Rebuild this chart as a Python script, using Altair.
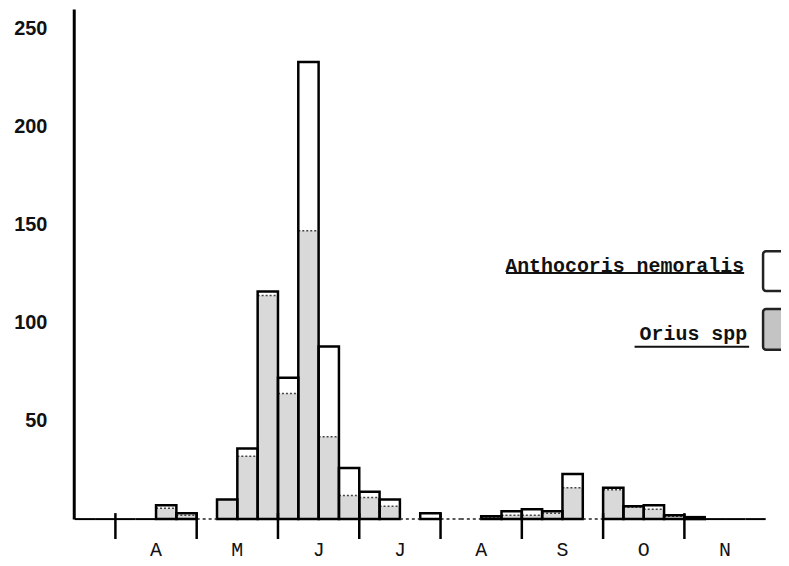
import altair as alt
import pandas as pd

# weekly bins (index 0 starts at the y axis)
bins = list(range(34))
total = [0, 0, 0, 0, 7, 3, 0, 10, 36, 116, 72, 233, 88, 26, 14, 10, 0, 3, 0, 0,
         1.5, 4, 5, 4, 23, 0, 16, 6.5, 7, 2, 1, 0, 0, 0]
orius = [0, 0, 0, 0, 5.5, 2, 0, 10, 32, 114, 64, 147, 42, 12, 11, 6.5, 0, 0, 0, 0,
         0.5, 2, 2, 3, 16, 0, 15, 6, 5, 1.5, 0.5, 0, 0, 0]
month_labels = ["A", "M", "J", "J", "A", "S", "O", "N"]
month_centers = [4, 8, 12, 16, 20, 24, 28, 32]
month_ticks = [2, 6, 10, 14, 18, 22, 26, 30]
y_ticks = [50, 100, 150, 200, 250]
legend_names = ["Anthocoris nemoralis", "Orius spp"]

df = pd.DataFrame({"bin": bins, "total": total, "orius": orius})
df["x0"] = df["bin"]
df["x1"] = df["bin"] + 1
df["edge"] = ["solid" if (b < 4 or b > 30) else "dotted" for b in bins]

W, H = 710, 512
PX = 20.4
xs = alt.Scale(domain=[-0.05, W / PX - 0.05], nice=False, zero=False)
ys = alt.Scale(domain=[0, 260], nice=False)

base = alt.Chart(df)

orius_fill = base.transform_filter("datum.orius > 0").mark_rect(
    fill="#d9d9d9", stroke=None
).encode(
    x=alt.X("x0:Q", scale=xs, axis=None),
    x2="x1:Q",
    y=alt.Y("orius:Q", scale=ys,
            axis=alt.Axis(values=y_ticks, title=None, grid=False, ticks=False,
                          domainColor="black", domainWidth=3,
                          labelFont="Liberation Sans", labelFontSize=20,
                          labelColor="#111", labelPadding=27,
                          labelFontWeight="bold")),
    y2=alt.datum(0),
)

orius_top = base.transform_filter("datum.orius > 0 && datum.orius < datum.total").mark_rule(
    color="#444", strokeWidth=1.5, strokeDash=[2, 2]
).encode(x=alt.X("x0:Q", scale=xs), x2="x1:Q", y=alt.Y("orius:Q", scale=ys))

outline = base.transform_filter("datum.total > 0").mark_rect(
    fill=None, stroke="black", strokeWidth=2.5
).encode(x=alt.X("x0:Q", scale=xs), x2="x1:Q",
         y=alt.Y("total:Q", scale=ys), y2=alt.datum(0))

zero_solid = base.transform_filter("datum.total == 0 && datum.edge == 'solid'").mark_rule(
    color="black", strokeWidth=2
).encode(x=alt.X("x0:Q", scale=xs), x2="x1:Q", y=alt.datum(0))

zero_dot = base.transform_filter("datum.total == 0 && datum.edge == 'dotted'").mark_rule(
    color="#222", strokeWidth=1.5, strokeDash=[3, 3]
).encode(x=alt.X("x0:Q", scale=xs), x2="x1:Q", y=alt.datum(0))

ticks = alt.Chart(pd.DataFrame({"t": month_ticks})).mark_rule(
    color="black", strokeWidth=2.5
).encode(x=alt.X("t:Q", scale=xs), y=alt.value(H - 6), y2=alt.value(H + 20))

months = alt.Chart(pd.DataFrame({"c": month_centers, "m": month_labels})).mark_text(
    font="Liberation Mono", fontSize=20, color="#111", baseline="middle"
).encode(x=alt.X("c:Q", scale=xs), y=alt.value(H + 31), text="m:N")

leg = pd.DataFrame({
    "name": legend_names,
    "tx": [673, 676], "ty": [264, 332],
    "ux0": [434, 563], "ux1": [673, 678], "uy": [265, 339],
    "bx0": [692, 692], "bx1": [714, 715], "by0": [243, 301], "by1": [283, 342],
    "fill": ["white", "#c4c4c4"],
})
leg_text = alt.Chart(leg).mark_text(
    font="Liberation Mono", fontSize=20, fontWeight="bold", color="#111",
    align="right", baseline="alphabetic"
).encode(x=alt.X("tx:Q", scale=None), y=alt.Y("ty:Q", scale=None), text="name:N")
leg_line = alt.Chart(leg).mark_rule(color="#111", strokeWidth=2).encode(
    x=alt.X("ux0:Q", scale=None), x2="ux1:Q", y=alt.Y("uy:Q", scale=None))
leg_box = alt.Chart(leg).mark_rect(stroke="#222", strokeWidth=2.5, cornerRadius=3).encode(
    x=alt.X("bx0:Q", scale=None), x2="bx1:Q",
    y=alt.Y("by0:Q", scale=None), y2="by1:Q",
    fill=alt.Fill("fill:N", scale=None))

chart = alt.layer(
    orius_fill, orius_top, outline, zero_solid, zero_dot, ticks, months,
    leg_line, leg_text, leg_box
).properties(
    width=W, height=H,
    autosize=alt.AutoSizeParams(type="none"),
    padding={"left": 66, "top": 0, "right": 0, "bottom": 46},
    background="white",
).configure_view(stroke=None)

chart.save("out.html", embed_options={"renderer": "svg", "actions": False})
